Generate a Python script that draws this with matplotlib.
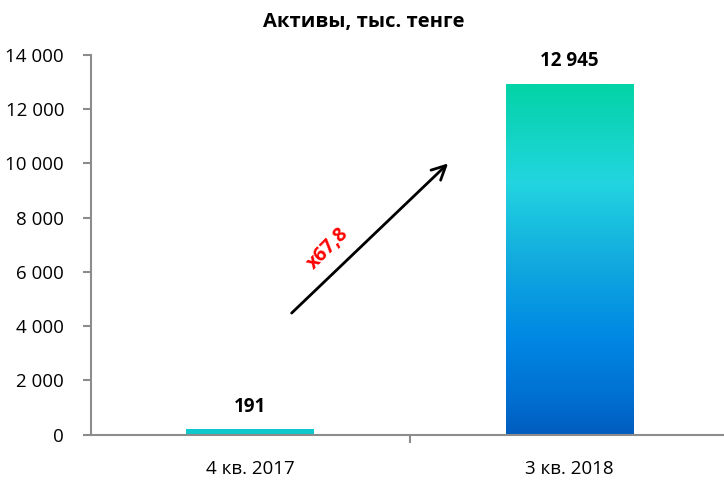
import matplotlib
matplotlib.use("Agg")
import matplotlib.pyplot as plt
import numpy as np
from matplotlib.colors import LinearSegmentedColormap

plt.rcParams['font.family'] = ['Open Sans', 'DejaVu Sans']

categories = ["4 кв. 2017", "3 кв. 2018"]
values = [191, 12945]
value_labels = ["191", "12 945"]
yticks = [0, 2000, 4000, 6000, 8000, 10000, 12000, 14000]
ytick_labels = ["0", "2 000", "4 000", "6 000", "8 000", "10 000", "12 000", "14 000"]
title = "Активы, тыс. тенге"
growth_label = "x67,8"

fig = plt.figure(figsize=(7.24, 4.82), dpi=100)
ax = fig.add_axes([0.125, 0.0985, 0.882, 0.7875])

x = np.arange(len(categories))
width = 0.40
ax.set_xlim(-0.5, 1.5)
ax.set_ylim(0, 14000)

# small bar solid
bars = ax.bar(x, values, width=width, color=["#0DC8CC", "none"], zorder=2)

# gradient for large bar
grad_cmap = LinearSegmentedColormap.from_list("g", [
    (0.0, "#005DBE"),
    (0.12, "#0072D4"),
    (0.28, "#0088E4"),
    (0.50, "#12ABDE"),
    (0.72, "#22D5E0"),
    (1.0, "#03D3A6"),
])
grad = np.linspace(0, 1, 256).reshape(-1, 1)
b = bars[1]
ax.imshow(grad, cmap=grad_cmap, origin="lower", aspect="auto",
          extent=(b.get_x(), b.get_x() + b.get_width(), 0, b.get_height()), zorder=2)
ax.set_xlim(-0.5, 1.5)
ax.set_ylim(0, 14000)

for xi, v, lab in zip(x, values, value_labels):
    ax.text(xi, v + 470, lab, ha="center", va="bottom", fontsize=13.5, fontweight="bold")

ax.set_yticks(yticks)
ax.set_yticklabels(ytick_labels, fontsize=13.5)
ax.set_xticks(x)
ax.set_xticklabels(categories, fontsize=13.5)
ax.set_xticks([0.5, 1.5], minor=True)
ax.tick_params(axis="x", which="major", length=0, pad=18)
ax.tick_params(axis="x", which="minor", length=6, width=1.5, color="#8C8C8C")
ax.tick_params(axis="y", length=6, width=1.5, color="#8C8C8C", pad=13)

for s in ["top", "right"]:
    ax.spines[s].set_visible(False)
for s in ["left", "bottom"]:
    ax.spines[s].set_color("#8C8C8C")
    ax.spines[s].set_linewidth(1.5)

# arrow
ax.annotate("", xy=(0.62, 10000), xytext=(0.13, 4480),
            arrowprops=dict(arrowstyle="->", lw=2, color="black",
                            mutation_scale=25, shrinkA=0, shrinkB=0))
ax.text(0.245, 6850, growth_label, color="red", fontsize=14, fontweight="bold",
        rotation=45, ha="center", va="center")

fig.text(0.503, 0.955, title, ha="center", va="center", fontsize=14.5, fontweight="bold")

fig.savefig("out.png", dpi=100)
